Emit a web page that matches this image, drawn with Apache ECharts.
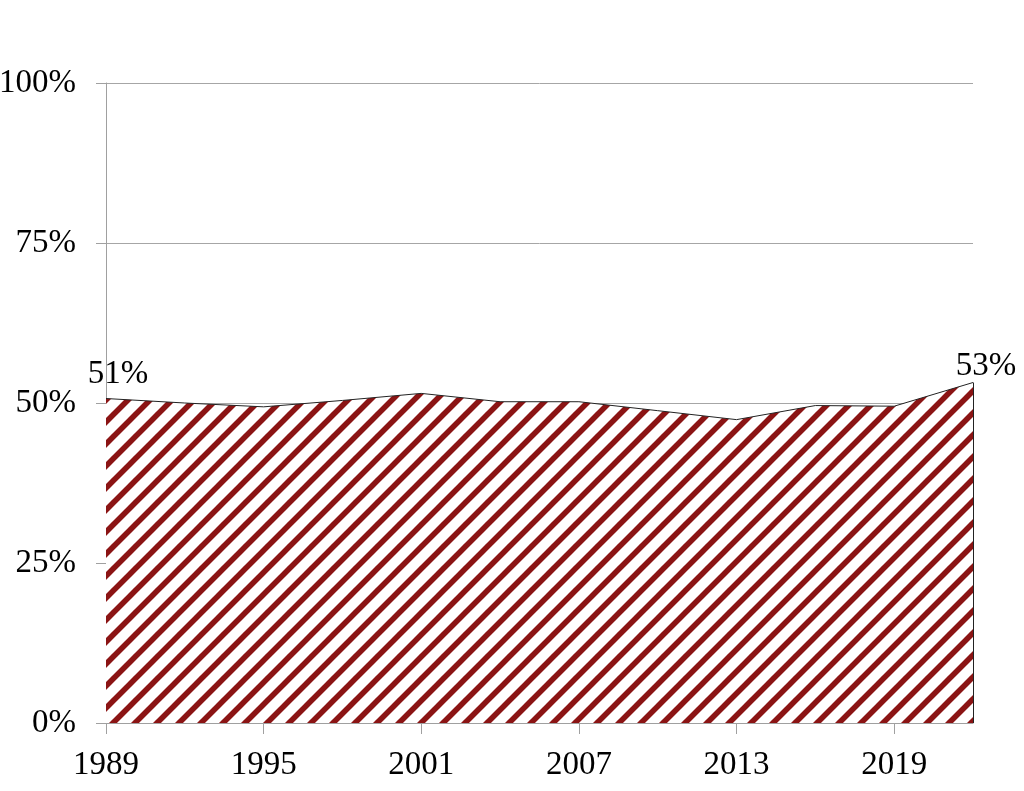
<!DOCTYPE html>
<html>
<head>
<meta charset="utf-8">
<script src="https://cdn.jsdelivr.net/npm/echarts@6/dist/echarts.min.js"></script>
<style>
  html, body { margin: 0; padding: 0; background: #fff; }
  #main { width: 1024px; height: 791px; }
</style>
</head>
<body>
<div id="main"></div>
<script>
// years on the axis (one category per year)
var firstYear = 1989;
var lastYear = 2022;
// survey years and the share (%)
var surveyYears = [1989, 1992, 1995, 1998, 2001, 2004, 2007, 2010, 2013, 2016, 2019, 2022];
var shareValues = [50.7, 50.0, 49.4, 50.4, 51.5, 50.2, 50.2, 48.8, 47.4, 49.6, 49.5, 53.2];
var yTicks = [0, 25, 50, 75, 100];

var years = [];
for (var y = firstYear; y <= lastYear; y++) years.push(String(y));

// hatched fill: dark red diagonal stripes
function makeHatch() {
    var s = 22;
    var c = document.createElement('canvas');
    c.width = s; c.height = s;
    var ctx = c.getContext('2d');
    ctx.fillStyle = '#ffffff';
    ctx.fillRect(0, 0, s, s);
    ctx.strokeStyle = '#8b1414';
    ctx.lineWidth = 5.6;
    ctx.beginPath();
    ctx.moveTo(0, s); ctx.lineTo(s, 0);
    ctx.moveTo(-s / 2, s / 2); ctx.lineTo(s / 2, -s / 2);
    ctx.moveTo(s / 2, s * 1.5); ctx.lineTo(s * 1.5, s / 2);
    ctx.stroke();
    return c;
}

var seriesData = years.map(function (yr) {
    var i = surveyYears.indexOf(+yr);
    if (i < 0) return null;
    var item = { value: shareValues[i] };
    if (i === 0) {
        item.label = { show: true, position: 'top', distance: 8, offset: [12, 0] };
    } else if (i === surveyYears.length - 1) {
        item.label = { show: true, position: 'top', distance: 0, offset: [13, 0] };
    }
    return item;
});

var font = 'Liberation Serif';
var chart = echarts.init(document.getElementById('main'));
chart.setOption({
    animation: false,
    grid: { left: 106, right: 51, top: 83, bottom: 68, containLabel: false, outerBoundsMode: 'none' },
    xAxis: {
        type: 'category',
        data: years,
        boundaryGap: false,
        axisLine: { show: true, lineStyle: { color: '#a0a0a0', width: 1 } },
        axisTick: { show: true, interval: 5, length: 11, lineStyle: { color: '#a0a0a0' } },
        axisLabel: { interval: 5, margin: 26, color: '#000', fontFamily: font, fontSize: 33 },
        splitLine: { show: false }
    },
    yAxis: {
        type: 'value',
        min: yTicks[0],
        max: yTicks[yTicks.length - 1],
        interval: 25,
        axisLine: { show: true, lineStyle: { color: '#a0a0a0', width: 1 } },
        axisTick: { show: true, length: 10, lineStyle: { color: '#a0a0a0' } },
        axisLabel: { margin: 30, color: '#000', fontFamily: font, fontSize: 33, formatter: '{value}%' },
        splitLine: { show: true, lineStyle: { color: '#a6a6a6', width: 1 } }
    },
    series: [{
        type: 'line',
        data: seriesData,
        connectNulls: true,
        symbol: 'circle',
        symbolSize: 0.1,
        showSymbol: true,
        itemStyle: { color: 'rgba(0,0,0,0)', borderWidth: 0 },
        lineStyle: { color: '#222', width: 1 },
        areaStyle: { color: { image: makeHatch(), repeat: 'repeat' }, opacity: 1 },
        label: {
            show: false,
            color: '#000',
            fontFamily: font,
            fontSize: 33,
            formatter: function (p) { return Math.round(p.value) + '%'; }
        },
        markLine: {
            silent: true,
            symbol: 'none',
            label: { show: false },
            lineStyle: { color: '#222', width: 1, type: 'solid' },
            data: [[
                { coord: [String(lastYear), 0] },
                { coord: [String(lastYear), shareValues[shareValues.length - 1]] }
            ]]
        }
    }]
});
</script>
</body>
</html>
